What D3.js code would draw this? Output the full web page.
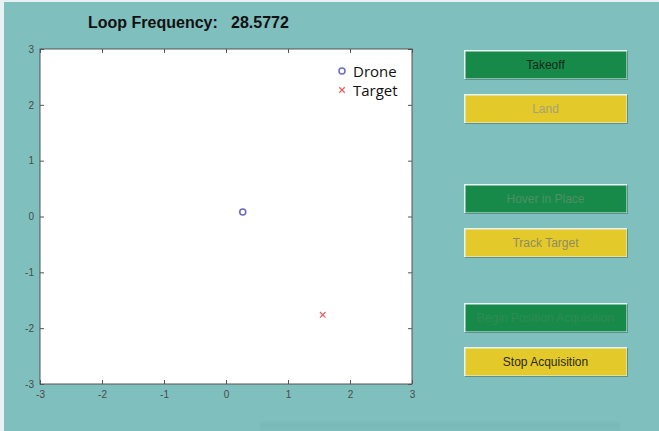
<!DOCTYPE html>
<html><head><meta charset="utf-8">
<script src="https://cdn.jsdelivr.net/npm/d3@7"></script>
<style>
html,body{margin:0;padding:0;background:#7fbfbe;}
svg{display:block;}
</style></head>
<body>
<svg id="c" width="659" height="431"></svg>
<script>
const xTicks = [-3,-2,-1,0,1,2,3];
const yTicks = [-3,-2,-1,0,1,2,3];
const droneX = [0.27];
const droneY = [0.08];
const targetX = [1.56];
const targetY = [-1.76];
const legendLabels = ["Drone","Target"];
const buttonLabels = ["Takeoff","Land","Hover in Place","Track Target","Begin Position Acquisition","Stop Acquisition"];
const titleLabel = "Loop Frequency:";
const freqValue = "28.5772";

const svg = d3.select("#c");
const W = 659, H = 431;
const fmt = d => String(d);
// background
svg.append("rect").attr("width",W).attr("height",H).attr("fill","#7fbfbe");
svg.append("rect").attr("x",0).attr("y",0).attr("width",4).attr("height",H).attr("fill","#e8f2f2");
svg.append("rect").attr("x",0).attr("y",0).attr("width",W).attr("height",2).attr("fill","#e8f2f2");
// subtle bottom shadow band
const defs = svg.append("defs");
const g1 = defs.append("linearGradient").attr("id","sh").attr("x1",0).attr("y1",0).attr("x2",0).attr("y2",1);
g1.append("stop").attr("offset","0").attr("stop-color","#77b7b6").attr("stop-opacity",0);
g1.append("stop").attr("offset","0.5").attr("stop-color","#77b7b6").attr("stop-opacity",0.8);
g1.append("stop").attr("offset","1").attr("stop-color","#7cbcbb").attr("stop-opacity",0.6);
svg.append("rect").attr("x",260).attr("y",420).attr("width",360).attr("height",11).attr("fill","url(#sh)");

const L=40, T=49, R=412, B=384;
const x = d3.scaleLinear().domain([-3,3]).range([L,R]);
const y = d3.scaleLinear().domain([-3,3]).range([B,T]);

svg.append("rect").attr("x",L).attr("y",T).attr("width",R-L).attr("height",B-T).attr("fill","#ffffff");

const axisStyle = g => {
  g.select(".domain").remove();
  g.selectAll("line").attr("stroke","#555").attr("stroke-width",1);
  g.selectAll("text").attr("fill","#4a4a4a").style("font-family","Liberation Sans, Arial, sans-serif").style("font-size","10px");
};
svg.append("g").attr("transform",`translate(0,${B})`)
  .call(d3.axisBottom(x).tickValues(xTicks).tickFormat(fmt).tickSize(-4).tickPadding(7)).call(axisStyle);
svg.append("g").attr("transform",`translate(0,${T})`)
  .call(d3.axisTop(x).tickValues(xTicks).tickFormat("").tickSize(-4)).call(axisStyle);
svg.append("g").attr("transform",`translate(${L},0)`)
  .call(d3.axisLeft(y).tickValues(yTicks).tickFormat(fmt).tickSize(-4).tickPadding(6)).call(axisStyle);
svg.append("g").attr("transform",`translate(${R},0)`)
  .call(d3.axisRight(y).tickValues(yTicks).tickFormat("").tickSize(-4)).call(axisStyle);
svg.append("rect").attr("x",L).attr("y",T).attr("width",R-L).attr("height",B-T)
  .attr("fill","none").attr("stroke","#555").attr("stroke-width",1);

// data marks
svg.selectAll(".drone").data(droneX.map((d,i)=>[d,droneY[i]])).enter().append("circle")
  .attr("cx",d=>x(d[0])).attr("cy",d=>y(d[1])).attr("r",3)
  .attr("fill","none").attr("stroke","#6b6bbf").attr("stroke-width",1.6);
const cross = d3.symbol().type(d3.symbolX).size(22);
svg.selectAll(".target").data(targetX.map((d,i)=>[d,targetY[i]])).enter().append("path")
  .attr("d",cross).attr("transform",d=>`translate(${x(d[0])},${y(d[1])})`)
  .attr("fill","none").attr("stroke","#e85a5a").attr("stroke-width",1.2);

// legend
const lg = svg.append("g");
lg.append("circle").attr("cx",342).attr("cy",71).attr("r",3).attr("fill","none").attr("stroke","#6b6bbf").attr("stroke-width",1.5);
lg.append("path").attr("d",cross).attr("transform","translate(342,90)").attr("fill","none").attr("stroke","#e85a5a").attr("stroke-width",1.2);
lg.selectAll("text").data(legendLabels).enter().append("text")
  .attr("x",353).attr("y",(d,i)=>77+i*19).text(d=>d)
  .attr("fill","#111").style("font-family","Open Sans, Liberation Sans, sans-serif").style("font-size","15px");

// title
svg.append("text").attr("x",88).attr("y",28).text(titleLabel)
  .attr("fill","#111").style("font-family","Liberation Sans, Arial, sans-serif").style("font-size","16px").style("font-weight","bold");
svg.append("text").attr("x",231).attr("y",28).text(freqValue)
  .attr("fill","#111").style("font-family","Liberation Sans, Arial, sans-serif").style("font-size","16px").style("font-weight","bold");

// buttons
const btnY = [50,94,184,228,303,347];
const btnFill = ["#178a49","#e3c92a","#178a49","#e3c92a","#178a49","#e3c92a"];
const btnText = ["#0e2a1a","#a5a277","#4f8f63","#8f8c62","#2f8a52","#2a2a14"];
const bx = 464, bw = 163, bh = 29;
const bg = svg.selectAll(".btn").data(buttonLabels).enter().append("g")
  .attr("transform",(d,i)=>`translate(${bx},${btnY[i]})`);
bg.append("rect").attr("x",1).attr("y",1).attr("width",bw).attr("height",bh).attr("fill","#5f8f8e");
bg.append("rect").attr("width",bw).attr("height",bh).attr("fill","#e8f4f3");
bg.append("rect").attr("x",1.5).attr("y",1.5).attr("width",bw-2).attr("height",bh-2).attr("fill",(d,i)=>btnFill[i]);
bg.append("text").attr("x",bw/2).attr("y",bh/2+4.5).attr("text-anchor","middle").text(d=>d)
  .attr("fill",(d,i)=>btnText[i]).style("font-family","Liberation Sans, Arial, sans-serif").style("font-size","12px");
</script>
</body></html>
